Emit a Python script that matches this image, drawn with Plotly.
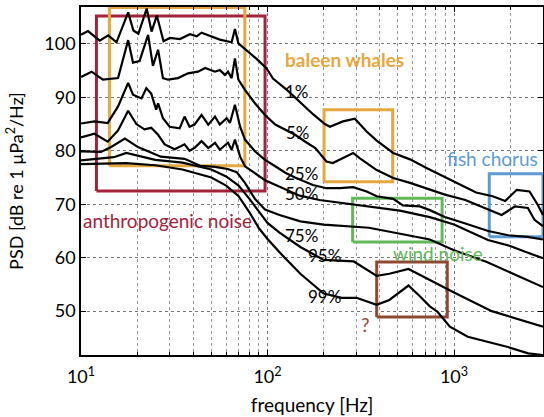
import numpy as np
import plotly.graph_objects as go

# ---------------- data ----------------
f_p1 = [10, 10.9, 12.6, 14.0, 15.5, 17.9, 19.1, 20.3, 22.5, 23.9, 25.5, 27.7, 30, 33.9, 38.4, 41.7, 44.3,
        49.1, 55.5, 64.2, 66.9, 69.8, 75.7, 87.4, 98.9, 107, 127, 149, 176, 203, 216, 254, 294, 340, 385,
        472, 581, 712, 873, 1072, 1314, 1612, 1880, 2170, 2540, 2800, 3000]
db_p1 = [101.7, 102.4, 100.6, 101.6, 100.3, 105.9, 102.5, 101.9, 106.6, 102.3, 105.3, 100.5, 101.1, 100.9,
         101.8, 101.4, 102.1, 101.5, 100.8, 100.3, 102.8, 100.1, 99.1, 97.2, 95.4, 93.5, 91.4, 89.1, 86.8,
         85.0, 84.5, 85.5, 86.0, 83.6, 81.9, 79.6, 78.4, 76.8, 75.3, 73.8, 72.2, 71.5, 70.6, 72.7, 72.4,
         70.0, 68.0]

f_p5 = [10, 11.4, 13.1, 15.8, 17.9, 19.0, 20.6, 22.4, 22.9, 24.3, 25.9, 27.5, 29.3, 33.1, 37.5, 42.4, 46.3,
        52.3, 55.5, 59.1, 61.4, 64.2, 66.9, 69.8, 75.7, 85.6, 97.0, 110, 124.5, 140.6, 159.5, 180.5, 207,
        224, 288, 313, 385, 472, 581, 742, 893, 1150, 1526, 1800, 2123, 2490, 2700, 3000]
db_p5 = [93.8, 94.8, 93.3, 93.6, 100.7, 96.5, 96.8, 100.7, 101.7, 95.9, 98.9, 93.6, 93.3, 93.6, 94.5, 94.8,
         95.5, 94.8, 95.1, 94.2, 94.8, 93.6, 97.3, 93.3, 91.4, 88.9, 86.7, 84.9, 83.9, 83.0, 81.7, 80.5,
         78.0, 77.7, 79.6, 78.6, 76.4, 74.9, 74.0, 72.7, 71.8, 70.8, 69.0, 68.0, 69.6, 69.3, 67.1, 65.9]

f_p25 = [10, 11.8, 13.9, 15.8, 17.9, 19.0, 21.1, 22.4, 23.8, 25.3, 25.9, 27.5, 29.9, 33.8, 35.9, 38.2, 40.6,
         44.3, 48.1, 52.3, 55.5, 60.4, 62.9, 66.9, 71.3, 75.7, 85.6, 97.0, 110, 124.5, 140.6, 175, 207,
         244, 288, 340, 385, 472, 532, 656, 742, 893, 1150, 1526, 1952, 2480, 3000]
db_p25 = [85.1, 85.5, 85.2, 88.3, 92.7, 90.5, 89.8, 91.7, 90.7, 87.7, 88.9, 86.1, 84.5, 84.2, 86.4, 84.5,
          84.9, 86.7, 84.9, 86.4, 84.9, 86.1, 85.2, 88.6, 84.5, 82.1, 79.9, 78.3, 77.1, 75.9, 75.0, 73.6,
          73.0, 73.0, 73.2, 72.4, 71.5, 71.0, 69.8, 69.6, 68.9, 67.6, 66.4, 65.0, 64.2, 63.9, 63.4]

f_p50 = [10, 11.8, 13.9, 15.8, 17.9, 19.8, 21.9, 23.8, 25.9, 28.1, 31.8, 35.9, 38.2, 40.8, 44.3, 48.1, 52.3,
         55.5, 61.4, 64.2, 66.9, 71.3, 75.7, 85.6, 97, 124.5, 148.6, 190, 244, 288, 400, 512, 742, 1000,
         1520, 2000, 2410, 3000]
db_p50 = [82.5, 83.2, 81.7, 83.8, 87.5, 85.0, 84.0, 84.3, 83.0, 81.2, 80.3, 81.2, 80.0, 80.6, 81.8, 80.5,
          81.5, 80.2, 81.5, 80.2, 82.1, 78.9, 77.1, 75.8, 74.5, 72.8, 71.6, 70.8, 70.3, 70.0, 69.4, 68.8,
          67.6, 66.2, 63.3, 62.2, 61.1, 59.9]

f_p75 = [10, 12.8, 14.5, 17.2, 20.2, 26.8, 35.9, 43.5, 52.3, 61.2, 68.4, 75.7, 85.6, 97, 116, 150, 200, 300,
         350, 742, 1000, 1500, 1944, 2500, 3000]
db_p75 = [79.9, 79.8, 80.7, 82.3, 80.7, 78.9, 78.5, 77.2, 77.0, 76.6, 76.0, 74.0, 71.0, 69.0, 68.0, 66.8,
          66.2, 65.8, 65.6, 63.4, 61.4, 59.2, 57.4, 55.8, 54.5]

f_p95 = [10, 15, 17.5, 25, 35, 50, 60, 70, 80, 90, 100, 116, 150, 200, 290, 385, 450, 570, 656, 742, 1000,
         1595, 2000, 3000]
db_p95 = [78.2, 78.8, 79.6, 78.3, 77.8, 76.5, 75.2, 73.5, 71.0, 68.5, 66.5, 64.7, 62.0, 59.6, 59.3, 56.6,
          57.0, 57.9, 56.8, 55.8, 53.5, 50.0, 49.0, 47.1]

f_p99 = [10, 17.5, 25, 35, 50, 60, 70, 80, 90, 100, 116, 150, 200, 250, 300, 385, 450, 570, 656, 742, 815,
         950, 1185, 1944, 2500, 3000]
db_p99 = [77.5, 77.7, 77.3, 76.5, 75.0, 73.5, 71.5, 68.5, 65.5, 63.5, 61.0, 57.0, 53.3, 52.5, 52.5, 51.2,
          52.1, 54.8, 52.8, 50.9, 49.9, 47.1, 45.2, 43.3, 42.1, 41.8]

percentile_labels = ["1%", "5%", "25%", "50%", "75%", "95%", "99%"]
label_f = [144, 145, 153, 153, 153, 203, 203]
label_db = [91.1, 83.5, 75.8, 72.1, 64.2, 60.4, 52.7]

# region boxes: f0, f1, dB0, dB1, colour
box_names = ["anthropogenic", "baleen_big", "baleen_small", "wind", "fish", "unknown"]
box_f0 = [12.1, 14.2, 201, 286, 1545, 385]
box_f1 = [97.0, 75.6, 469, 863, 3000, 920]
box_db0 = [72.5, 77.2, 74.2, 62.95, 63.9, 48.9]
box_db1 = [105.2, 106.8, 87.7, 71.1, 75.7, 59.2]
RED, ORANGE, GREEN, BLUE, BROWN = "#A3233B", "#E6A83C", "#63B85A", "#5D9BD3", "#8E4A30"
box_colors = [RED, ORANGE, ORANGE, GREEN, BLUE, BROWN]

region_texts = ["baleen whales", "fish chorus", "anthropogenic noise", "wind noise", "?"]
region_f = [260, 1600, 29.1, 816, 337]
region_db = [97.1, 78.6, 67.0, 60.8, 47.6]
region_colors = [ORANGE, BLUE, RED, GREEN, BROWN]
region_bold = [True, False, False, False, False]

x_tickvals = [10, 100, 1000]
x_ticktext = ["10<sup>1</sup>", "10<sup>2</sup>", "10<sup>3</sup>"]
y_tickvals = [50, 60, 70, 80, 90, 100]
x_minor = [m * d for d in (10, 100, 1000) for m in range(2, 10) if m * d <= 3000]

FONT = "Lato"

fig = go.Figure()

for i in range(len(box_names)):
    xs = [box_f0[i], box_f1[i], box_f1[i], box_f0[i], box_f0[i]]
    ys = [box_db0[i], box_db0[i], box_db1[i], box_db1[i], box_db0[i]]
    fig.add_trace(go.Scatter(x=xs, y=ys, mode="lines", line=dict(color=box_colors[i], width=3),
                             hoverinfo="skip", showlegend=False))

curves = [(f_p1, db_p1), (f_p5, db_p5), (f_p25, db_p25), (f_p50, db_p50),
          (f_p75, db_p75), (f_p95, db_p95), (f_p99, db_p99)]
for (fx, dy), name in zip(curves, percentile_labels):
    fig.add_trace(go.Scatter(x=fx, y=dy, mode="lines", name=name,
                             line=dict(color="black", width=2.2), showlegend=False))

annotations = []
for t, fx, dy in zip(percentile_labels, label_f, label_db):
    annotations.append(dict(x=np.log10(fx), y=dy, xref="x", yref="y", text=t, showarrow=False,
                            font=dict(family=FONT, size=17, color="black")))
for t, fx, dy, c, b in zip(region_texts, region_f, region_db, region_colors, region_bold):
    annotations.append(dict(x=np.log10(fx), y=dy, xref="x", yref="y",
                            text=f"<b>{t}</b>" if b else t, showarrow=False,
                            font=dict(family=FONT, size=19, color=c)))

fig.update_layout(
    width=544, height=417,
    margin=dict(l=81, r=1, t=7, b=62, autoexpand=False),
    paper_bgcolor="white", plot_bgcolor="white",
    font=dict(family=FONT, size=17, color="black"),
    annotations=annotations,
    showlegend=False,
)
fig.update_xaxes(
    type="log", range=[1, np.log10(3000)], automargin=False,
    tickvals=x_tickvals, ticktext=x_ticktext,
    ticks="inside", ticklen=5, tickcolor="black",
    showline=True, linecolor="black", linewidth=1.5, mirror="ticks",
    showgrid=True, gridcolor="#777", griddash="dot", gridwidth=1,
    minor=dict(tickvals=x_minor, ticks="inside", ticklen=3, tickcolor="black",
               showgrid=True, gridcolor="#999", griddash="dot", gridwidth=1),
    title=dict(text="frequency [Hz]", font=dict(family=FONT, size=19), standoff=12),
    tickfont=dict(family=FONT, size=18),
    ticklabelstandoff=5,
    zeroline=False,
)
fig.update_yaxes(
    range=[41.8, 106.9], automargin=False,
    tickvals=y_tickvals,
    ticks="inside", ticklen=5, tickcolor="black",
    showline=True, linecolor="black", linewidth=1.5, mirror="ticks",
    showgrid=True, gridcolor="#777", griddash="dot", gridwidth=1,
    title=dict(text="PSD [dB re 1 μPa<sup>2</sup>/Hz]", font=dict(family=FONT, size=18), standoff=16),
    tickfont=dict(family=FONT, size=18),
    zeroline=False,
)

fig.write_html("out.html", config={"displayModeBar": False},
               post_script="document.body.style.margin='0';document.body.style.overflow='hidden';")
